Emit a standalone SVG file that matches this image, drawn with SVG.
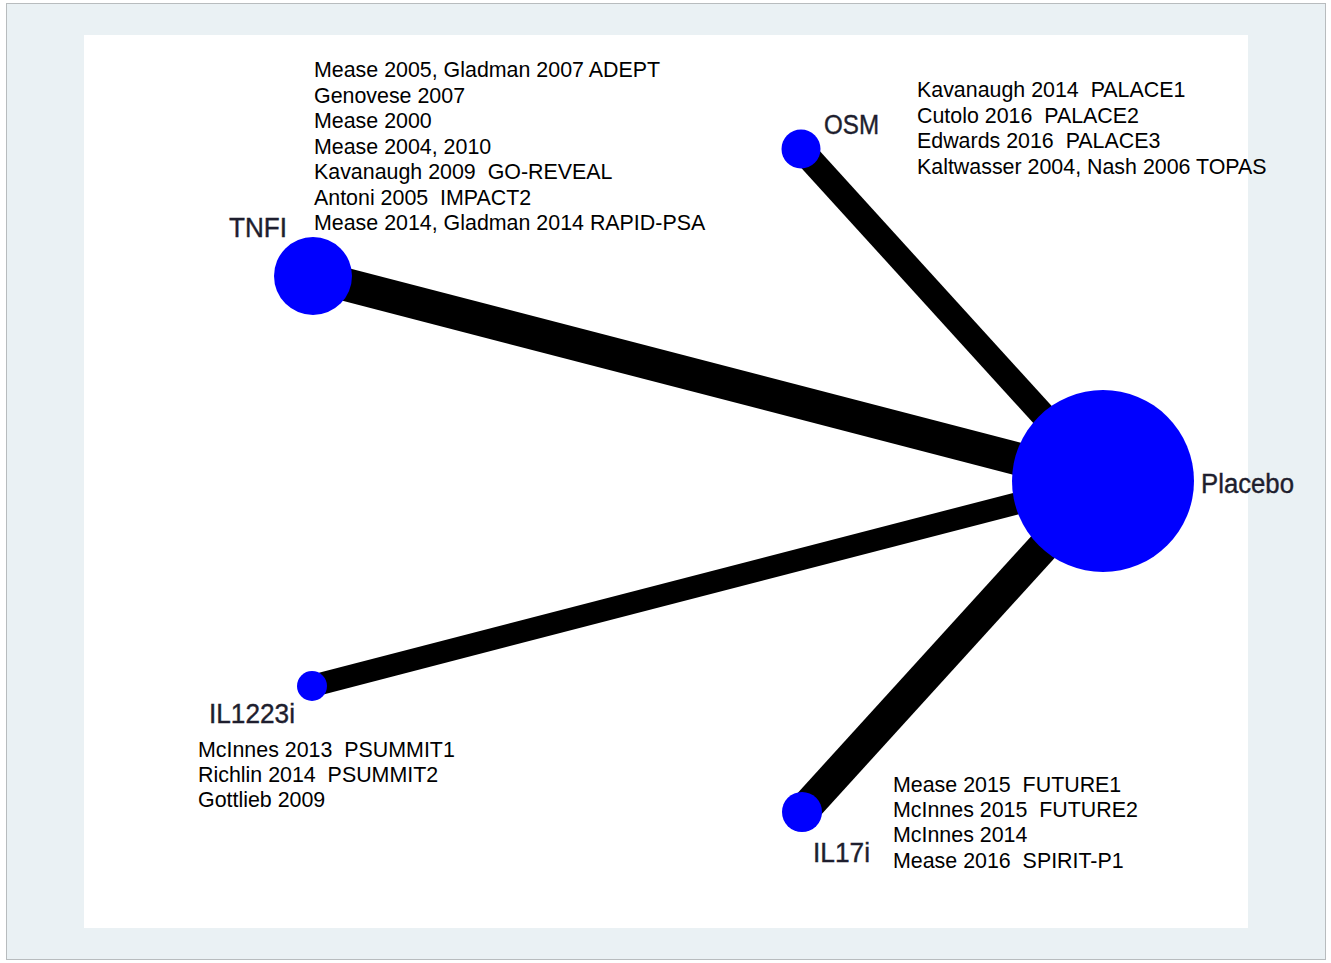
<svg xmlns="http://www.w3.org/2000/svg" width="1331" height="963" viewBox="0 0 1331 963">
<style>
.ref{font-family:"Liberation Sans",Arial,sans-serif;font-size:21.4px;fill:#000}
.lbl{font-family:"Liberation Sans",Arial,sans-serif;font-size:27px;fill:#1e1e2e;stroke:#1e1e2e;stroke-width:0.4}
.node{fill:#0000ff}
.edge{stroke:#000;fill:none;stroke-linecap:butt}
</style>
<rect x="6.5" y="3.5" width="1319" height="956" fill="#eaf1f4" stroke="#b8bcbe" stroke-width="1"/>
<rect x="84" y="35" width="1164" height="893" fill="#ffffff"/>
<g id="connectors">
<line class="edge" x1="313" y1="276" x2="1103" y2="481" stroke-width="33"/>
<line class="edge" x1="801" y1="149" x2="1103" y2="481" stroke-width="25"/>
<line class="edge" x1="312" y1="686" x2="1103" y2="481" stroke-width="22"/>
<line class="edge" x1="802" y1="812" x2="1103" y2="481" stroke-width="32"/>
</g>
<g id="node-tnfi">
<circle class="node" cx="313" cy="276" r="39"/>
<text class="lbl" x="229" y="237" textLength="58" lengthAdjust="spacingAndGlyphs">TNFI</text>
<text class="ref" x="314" y="77">Mease 2005, Gladman 2007 ADEPT</text>
<text class="ref" x="314" y="102.5">Genovese 2007</text>
<text class="ref" x="314" y="128">Mease 2000</text>
<text class="ref" x="314" y="153.5">Mease 2004, 2010</text>
<text class="ref" x="314" y="179" xml:space="preserve">Kavanaugh 2009  GO-REVEAL</text>
<text class="ref" x="314" y="204.5" xml:space="preserve">Antoni 2005  IMPACT2</text>
<text class="ref" x="314" y="230">Mease 2014, Gladman 2014 RAPID-PSA</text>
</g>
<g id="node-osm">
<circle class="node" cx="801" cy="149" r="19.5"/>
<text class="lbl" x="824" y="134" textLength="55" lengthAdjust="spacingAndGlyphs">OSM</text>
<text class="ref" x="917" y="97" xml:space="preserve">Kavanaugh 2014  PALACE1</text>
<text class="ref" x="917" y="122.5" xml:space="preserve">Cutolo 2016  PALACE2</text>
<text class="ref" x="917" y="148" xml:space="preserve">Edwards 2016  PALACE3</text>
<text class="ref" x="917" y="173.5">Kaltwasser 2004, Nash 2006 TOPAS</text>
</g>
<g id="node-placebo">
<circle class="node" cx="1103" cy="481" r="91"/>
<text class="lbl" x="1201" y="492.5" textLength="93" lengthAdjust="spacingAndGlyphs">Placebo</text>
</g>
<g id="node-il1223i">
<circle class="node" cx="312" cy="686" r="15"/>
<text class="lbl" x="209" y="722.5" textLength="86" lengthAdjust="spacingAndGlyphs">IL1223i</text>
<text class="ref" x="198" y="756.5" xml:space="preserve">McInnes 2013  PSUMMIT1</text>
<text class="ref" x="198" y="781.5" xml:space="preserve">Richlin 2014  PSUMMIT2</text>
<text class="ref" x="198" y="807">Gottlieb 2009</text>
</g>
<g id="node-il17i">
<circle class="node" cx="802" cy="812" r="20"/>
<text class="lbl" x="813" y="861.5" textLength="57" lengthAdjust="spacingAndGlyphs">IL17i</text>
<text class="ref" x="893" y="791.5" xml:space="preserve">Mease 2015  FUTURE1</text>
<text class="ref" x="893" y="817" xml:space="preserve">McInnes 2015  FUTURE2</text>
<text class="ref" x="893" y="842" xml:space="preserve">McInnes 2014</text>
<text class="ref" x="893" y="867.5" xml:space="preserve">Mease 2016  SPIRIT-P1</text>
</g>
</svg>
